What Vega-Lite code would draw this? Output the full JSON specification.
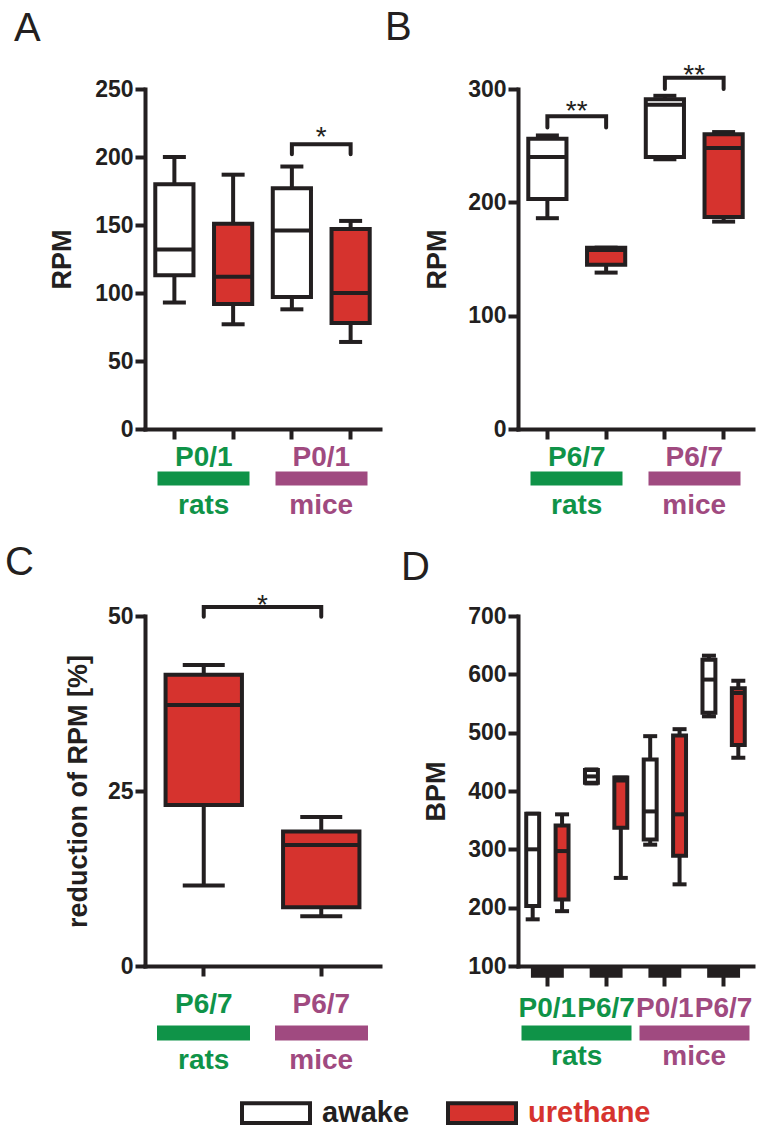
{
  "$schema": "https://vega.github.io/schema/vega-lite/v6.json",
  "background": "white",
  "padding": {"left": 5, "top": 7, "right": 5, "bottom": 5},
  "datasets": {
    "boxes": [
      {"panel": "A", "box": "A1", "grp": "rats", "cond": "awake", "min": 93, "q1": 113, "med": 132, "q3": 180, "max": 200},
      {"panel": "A", "box": "A2", "grp": "rats", "cond": "urethane", "min": 77, "q1": 92, "med": 112, "q3": 151, "max": 187},
      {"panel": "A", "box": "A3", "grp": "mice", "cond": "awake", "min": 88, "q1": 97, "med": 146, "q3": 177, "max": 193},
      {"panel": "A", "box": "A4", "grp": "mice", "cond": "urethane", "min": 64, "q1": 78, "med": 100, "q3": 147, "max": 153},
      {"panel": "B", "box": "B1", "grp": "rats", "cond": "awake", "min": 186, "q1": 203, "med": 240, "q3": 256, "max": 259},
      {"panel": "B", "box": "B2", "grp": "rats", "cond": "urethane", "min": 138, "q1": 145, "med": 158, "q3": 160, "max": 160},
      {"panel": "B", "box": "B3", "grp": "mice", "cond": "awake", "min": 238, "q1": 240, "med": 286, "q3": 291, "max": 294},
      {"panel": "B", "box": "B4", "grp": "mice", "cond": "urethane", "min": 183, "q1": 187, "med": 248, "q3": 260, "max": 262},
      {"panel": "C", "box": "C1", "grp": "rats", "cond": "urethane", "min": 11.5, "q1": 23, "med": 37.3, "q3": 41.6, "max": 43},
      {"panel": "C", "box": "C2", "grp": "mice", "cond": "urethane", "min": 7.1, "q1": 8.4, "med": 17.3, "q3": 19.2, "max": 21.3},
      {"panel": "D", "box": "D1", "age": "P0/1 rats", "cond": "awake", "min": 180, "q1": 203, "med": 300, "q3": 361, "max": 361},
      {"panel": "D", "box": "D2", "age": "P0/1 rats", "cond": "urethane", "min": 194, "q1": 214, "med": 297, "q3": 341, "max": 360},
      {"panel": "D", "box": "D3", "age": "P6/7 rats", "cond": "awake", "min": 413, "q1": 414, "med": 425, "q3": 436, "max": 437},
      {"panel": "D", "box": "D4", "age": "P6/7 rats", "cond": "urethane", "min": 251, "q1": 337, "med": 418, "q3": 423, "max": 423},
      {"panel": "D", "box": "D5", "age": "P0/1 mice", "cond": "awake", "min": 308, "q1": 317, "med": 365, "q3": 454, "max": 494},
      {"panel": "D", "box": "D6", "age": "P0/1 mice", "cond": "urethane", "min": 240, "q1": 289, "med": 360, "q3": 495, "max": 506},
      {"panel": "D", "box": "D7", "age": "P6/7 mice", "cond": "awake", "min": 528, "q1": 534, "med": 591, "q3": 625, "max": 632},
      {"panel": "D", "box": "D8", "age": "P6/7 mice", "cond": "urethane", "min": 457, "q1": 479, "med": 568, "q3": 576, "max": 589}
    ],
    "brackets": [
      {"panel": "A", "bid": "a", "box": "A3", "y": 202, "o": 1},
      {"panel": "A", "bid": "a", "box": "A3", "y": 209.4, "o": 2},
      {"panel": "A", "bid": "a", "box": "A4", "y": 209.4, "o": 3},
      {"panel": "A", "bid": "a", "box": "A4", "y": 202, "o": 4},
      {"panel": "B", "bid": "b1", "box": "B1", "y": 266, "o": 1},
      {"panel": "B", "bid": "b1", "box": "B1", "y": 276, "o": 2},
      {"panel": "B", "bid": "b1", "box": "B2", "y": 276, "o": 3},
      {"panel": "B", "bid": "b1", "box": "B2", "y": 266, "o": 4},
      {"panel": "B", "bid": "b2", "box": "B3", "y": 300, "o": 1},
      {"panel": "B", "bid": "b2", "box": "B3", "y": 310, "o": 2},
      {"panel": "B", "bid": "b2", "box": "B4", "y": 310, "o": 3},
      {"panel": "B", "bid": "b2", "box": "B4", "y": 300, "o": 4},
      {"panel": "C", "bid": "c", "box": "C1", "y": 49.9, "o": 1},
      {"panel": "C", "bid": "c", "box": "C1", "y": 51.3, "o": 2},
      {"panel": "C", "bid": "c", "box": "C2", "y": 51.3, "o": 3},
      {"panel": "C", "bid": "c", "box": "C2", "y": 49.9, "o": 4}
    ],
    "stars": [
      {"panel": "A", "grp": "mice", "y": 208, "s": "*"},
      {"panel": "B", "grp": "rats", "y": 272.7, "s": "**"},
      {"panel": "B", "grp": "mice", "y": 304.5, "s": "**"},
      {"panel": "C", "grp": "all", "y": 50.3, "s": "*"}
    ],
    "blocks": [
      {"age": "P0/1 rats", "top": 100, "bot": 80},
      {"age": "P6/7 rats", "top": 100, "bot": 80},
      {"age": "P0/1 mice", "top": 100, "bot": 80},
      {"age": "P6/7 mice", "top": 100, "bot": 80}
    ],
    "strip": [
      {"panel": "A", "key": "P0/1 rats", "grp": "rats"},
      {"panel": "A", "key": "P0/1 mice", "grp": "mice"},
      {"panel": "B", "key": "P6/7 rats", "grp": "rats"},
      {"panel": "B", "key": "P6/7 mice", "grp": "mice"},
      {"panel": "C", "key": "P6/7 rats", "grp": "rats"},
      {"panel": "C", "key": "P6/7 mice", "grp": "mice"},
      {"panel": "D", "key": "P0/1 rats", "grp": "rats"},
      {"panel": "D", "key": "P6/7 rats", "grp": "rats"},
      {"panel": "D", "key": "P0/1 mice", "grp": "mice"},
      {"panel": "D", "key": "P6/7 mice", "grp": "mice"}
    ]
  },
  "columns": 2,
  "align": "each",
  "spacing": {"row": 11, "column": 5},
  "concat": [
    {
      "width": 235, "height": 340,
      "title": {"text": "A", "dx": -131, "offset": 29},
      "data": {"name": "boxes"},
      "transform": [{"filter": "datum.panel === 'A'"}],
      "resolve": {"scale": {"x": "independent"}},
      "layer": [
        {"mark": {"type": "rule", "color": "#231f20", "strokeWidth": 4},
         "encoding": {"x": {"field": "box", "type": "nominal", "scale": {"type": "band", "domain": ["A1", "A2", "A3", "A4"], "paddingInner": 0.35, "paddingOuter": 0.175}, "axis": {"title": null, "labels": false}},
           "y": {"field": "min", "type": "quantitative", "scale": {"domain": [0, 250], "nice": false}, "axis": {"title": "RPM", "values": [0, 50, 100, 150, 200, 250], "titlePadding": 18}}, "y2": {"field": "max"}}},
        {"mark": {"type": "tick", "color": "#231f20", "size": 23, "thickness": 4, "opacity": 1},
         "encoding": {"x": {"field": "box", "type": "nominal", "scale": {"type": "band", "domain": ["A1", "A2", "A3", "A4"], "paddingInner": 0.35, "paddingOuter": 0.175}, "axis": null}, "y": {"field": "min", "type": "quantitative"}}},
        {"mark": {"type": "tick", "color": "#231f20", "size": 23, "thickness": 4, "opacity": 1},
         "encoding": {"x": {"field": "box", "type": "nominal", "scale": {"type": "band", "domain": ["A1", "A2", "A3", "A4"], "paddingInner": 0.35, "paddingOuter": 0.175}, "axis": null}, "y": {"field": "max", "type": "quantitative"}}},
        {"mark": {"type": "bar", "stroke": "#231f20", "strokeWidth": 4, "opacity": 1},
         "encoding": {"x": {"field": "box", "type": "nominal", "scale": {"type": "band", "domain": ["A1", "A2", "A3", "A4"], "paddingInner": 0.35, "paddingOuter": 0.175}, "axis": null},
           "y": {"field": "q1", "type": "quantitative"}, "y2": {"field": "q3"},
           "fill": {"field": "cond", "type": "nominal", "scale": {"domain": ["awake", "urethane"], "range": ["#ffffff", "#d6332e"]},
             "legend": {"orient": "none", "legendX": 95, "legendY": 988, "direction": "horizontal", "title": null,
               "symbolType": "M-1,-0.29H1V0.29H-1Z", "symbolSize": 4624, "symbolStrokeColor": "#231f20", "symbolStrokeWidth": 4, "symbolOpacity": 1,
               "labelFont": "Liberation Sans", "labelFontSize": 29, "labelFontWeight": "bold", "labelOffset": 10, "columnPadding": 30,
               "encode": {"labels": {"update": {"fill": {"signal": "datum.label === 'urethane' ? '#d6332e' : '#231f20'"}}}}}}}},
        {"mark": {"type": "tick", "color": "#231f20", "size": 38, "thickness": 4, "opacity": 1},
         "encoding": {"x": {"field": "box", "type": "nominal", "scale": {"type": "band", "domain": ["A1", "A2", "A3", "A4"], "paddingInner": 0.35, "paddingOuter": 0.175}, "axis": null}, "y": {"field": "med", "type": "quantitative"}}},
        {"data": {"name": "brackets"}, "transform": [{"filter": "datum.panel === 'A'"}],
         "mark": {"type": "line", "color": "#231f20", "strokeWidth": 4, "strokeCap": "round"},
         "encoding": {"x": {"field": "box", "type": "nominal", "scale": {"type": "band", "domain": ["A1", "A2", "A3", "A4"], "paddingInner": 0.35, "paddingOuter": 0.175}, "axis": null},
           "y": {"field": "y", "type": "quantitative"}, "order": {"field": "o"}, "detail": {"field": "bid"}}},
        {"data": {"name": "stars"}, "transform": [{"filter": "datum.panel === 'A'"}],
         "mark": {"type": "text", "fontSize": 28, "baseline": "alphabetic", "color": "#231f20"},
         "encoding": {"x": {"field": "grp", "type": "nominal", "scale": {"type": "band", "domain": ["rats", "mice"], "paddingInner": 0, "paddingOuter": 0}, "axis": null}, "y": {"field": "y", "type": "quantitative"}, "text": {"field": "s"}}},
        {"data": {"name": "strip"}, "transform": [{"filter": "datum.panel === 'A'"}],
         "mark": {"type": "point", "opacity": 0},
         "encoding": {"x": {"field": "key", "type": "nominal", "sort": null, "scale": {"type": "band", "paddingInner": 0, "paddingOuter": 0},
           "axis": {"orient": "bottom", "offset": 14, "title": null, "domain": false, "ticks": false, "labelAngle": 0, "labelOverlap": false, "labelExpr": "split(datum.value, ' ')[0]", "labelFontSize": 28, "labelPadding": 0,
             "labelColor": {"condition": {"test": "indexof(datum.value, 'rats') >= 0", "value": "#0f9348"}, "value": "#a04a80"}}},
           "y": {"datum": 0, "type": "quantitative"}}},
        {"data": {"name": "strip"}, "transform": [{"filter": "datum.panel === 'A'"}],
         "mark": {"type": "point", "opacity": 0},
         "encoding": {"x": {"field": "grp", "type": "nominal", "scale": {"type": "band", "domain": ["rats", "mice"], "paddingInner": 0, "paddingOuter": 0},
           "axis": {"orient": "bottom", "offset": 42, "title": null, "domain": false, "tickSize": 14, "tickWidth": 92, "tickCap": "butt",
             "tickColor": {"condition": {"test": "datum.value === 'rats'", "value": "#0f9348"}, "value": "#a04a80"},
             "labelAngle": 0, "labelOverlap": false, "labelFontSize": 28, "labelPadding": 6,
             "labelColor": {"condition": {"test": "datum.value === 'rats'", "value": "#0f9348"}, "value": "#a04a80"}}},
           "y": {"datum": 0, "type": "quantitative"}}}
      ]
    },
    {
      "width": 235, "height": 340,
      "title": {"text": "B", "dx": -133, "offset": 14},
      "data": {"name": "boxes"},
      "transform": [{"filter": "datum.panel === 'B'"}],
      "resolve": {"scale": {"x": "independent"}},
      "layer": [
        {"mark": {"type": "rule", "color": "#231f20", "strokeWidth": 4},
         "encoding": {"x": {"field": "box", "type": "nominal", "scale": {"type": "band", "domain": ["B1", "B2", "B3", "B4"], "paddingInner": 0.35, "paddingOuter": 0.175}, "axis": {"title": null, "labels": false}},
           "y": {"field": "min", "type": "quantitative", "scale": {"domain": [0, 300], "nice": false}, "axis": {"title": "RPM", "values": [0, 100, 200, 300], "titlePadding": 16}}, "y2": {"field": "max"}}},
        {"mark": {"type": "tick", "color": "#231f20", "size": 23, "thickness": 4, "opacity": 1},
         "encoding": {"x": {"field": "box", "type": "nominal", "scale": {"type": "band", "domain": ["B1", "B2", "B3", "B4"], "paddingInner": 0.35, "paddingOuter": 0.175}, "axis": null}, "y": {"field": "min", "type": "quantitative"}}},
        {"mark": {"type": "tick", "color": "#231f20", "size": 23, "thickness": 4, "opacity": 1},
         "encoding": {"x": {"field": "box", "type": "nominal", "scale": {"type": "band", "domain": ["B1", "B2", "B3", "B4"], "paddingInner": 0.35, "paddingOuter": 0.175}, "axis": null}, "y": {"field": "max", "type": "quantitative"}}},
        {"mark": {"type": "bar", "stroke": "#231f20", "strokeWidth": 4, "opacity": 1},
         "encoding": {"x": {"field": "box", "type": "nominal", "scale": {"type": "band", "domain": ["B1", "B2", "B3", "B4"], "paddingInner": 0.35, "paddingOuter": 0.175}, "axis": null},
           "y": {"field": "q1", "type": "quantitative"}, "y2": {"field": "q3"},
           "fill": {"field": "cond", "type": "nominal", "scale": {"domain": ["awake", "urethane"], "range": ["#ffffff", "#d6332e"]}}}},
        {"mark": {"type": "tick", "color": "#231f20", "size": 38, "thickness": 4, "opacity": 1},
         "encoding": {"x": {"field": "box", "type": "nominal", "scale": {"type": "band", "domain": ["B1", "B2", "B3", "B4"], "paddingInner": 0.35, "paddingOuter": 0.175}, "axis": null}, "y": {"field": "med", "type": "quantitative"}}},
        {"data": {"name": "brackets"}, "transform": [{"filter": "datum.panel === 'B'"}],
         "mark": {"type": "line", "color": "#231f20", "strokeWidth": 4, "strokeCap": "round"},
         "encoding": {"x": {"field": "box", "type": "nominal", "scale": {"type": "band", "domain": ["B1", "B2", "B3", "B4"], "paddingInner": 0.35, "paddingOuter": 0.175}, "axis": null},
           "y": {"field": "y", "type": "quantitative"}, "order": {"field": "o"}, "detail": {"field": "bid"}}},
        {"data": {"name": "stars"}, "transform": [{"filter": "datum.panel === 'B'"}],
         "mark": {"type": "text", "fontSize": 28, "baseline": "alphabetic", "color": "#231f20"},
         "encoding": {"x": {"field": "grp", "type": "nominal", "scale": {"type": "band", "domain": ["rats", "mice"], "paddingInner": 0, "paddingOuter": 0}, "axis": null}, "y": {"field": "y", "type": "quantitative"}, "text": {"field": "s"}}},
        {"data": {"name": "strip"}, "transform": [{"filter": "datum.panel === 'B'"}],
         "mark": {"type": "point", "opacity": 0},
         "encoding": {"x": {"field": "key", "type": "nominal", "sort": null, "scale": {"type": "band", "paddingInner": 0, "paddingOuter": 0},
           "axis": {"orient": "bottom", "offset": 14, "title": null, "domain": false, "ticks": false, "labelAngle": 0, "labelOverlap": false, "labelExpr": "split(datum.value, ' ')[0]", "labelFontSize": 28, "labelPadding": 0,
             "labelColor": {"condition": {"test": "indexof(datum.value, 'rats') >= 0", "value": "#0f9348"}, "value": "#a04a80"}}},
           "y": {"datum": 0, "type": "quantitative"}}},
        {"data": {"name": "strip"}, "transform": [{"filter": "datum.panel === 'B'"}],
         "mark": {"type": "point", "opacity": 0},
         "encoding": {"x": {"field": "grp", "type": "nominal", "scale": {"type": "band", "domain": ["rats", "mice"], "paddingInner": 0, "paddingOuter": 0},
           "axis": {"orient": "bottom", "offset": 42, "title": null, "domain": false, "tickSize": 14, "tickWidth": 92, "tickCap": "butt",
             "tickColor": {"condition": {"test": "datum.value === 'rats'", "value": "#0f9348"}, "value": "#a04a80"},
             "labelAngle": 0, "labelOverlap": false, "labelFontSize": 28, "labelPadding": 6,
             "labelColor": {"condition": {"test": "datum.value === 'rats'", "value": "#0f9348"}, "value": "#a04a80"}}},
           "y": {"datum": 0, "type": "quantitative"}}}
      ]
    },
    {
      "width": 235, "height": 350,
      "title": {"text": "C", "dx": -140, "offset": 9},
      "data": {"name": "boxes"},
      "transform": [{"filter": "datum.panel === 'C'"}],
      "resolve": {"scale": {"x": "independent"}},
      "layer": [
        {"mark": {"type": "rule", "color": "#231f20", "strokeWidth": 4},
         "encoding": {"x": {"field": "box", "type": "nominal", "scale": {"type": "band", "domain": ["C1", "C2"], "paddingInner": 0.35, "paddingOuter": 0.175}, "axis": {"title": null, "labels": false}},
           "y": {"field": "min", "type": "quantitative", "scale": {"domain": [0, 50], "nice": false}, "axis": {"title": "reduction of RPM [%]", "values": [0, 25, 50], "titlePadding": 15}}, "y2": {"field": "max"}}},
        {"mark": {"type": "tick", "color": "#231f20", "size": 42, "thickness": 4, "opacity": 1},
         "encoding": {"x": {"field": "box", "type": "nominal", "scale": {"type": "band", "domain": ["C1", "C2"], "paddingInner": 0.35, "paddingOuter": 0.175}, "axis": null}, "y": {"field": "min", "type": "quantitative"}}},
        {"mark": {"type": "tick", "color": "#231f20", "size": 42, "thickness": 4, "opacity": 1},
         "encoding": {"x": {"field": "box", "type": "nominal", "scale": {"type": "band", "domain": ["C1", "C2"], "paddingInner": 0.35, "paddingOuter": 0.175}, "axis": null}, "y": {"field": "max", "type": "quantitative"}}},
        {"mark": {"type": "bar", "stroke": "#231f20", "strokeWidth": 4, "opacity": 1},
         "encoding": {"x": {"field": "box", "type": "nominal", "scale": {"type": "band", "domain": ["C1", "C2"], "paddingInner": 0.35, "paddingOuter": 0.175}, "axis": null},
           "y": {"field": "q1", "type": "quantitative"}, "y2": {"field": "q3"},
           "fill": {"field": "cond", "type": "nominal", "scale": {"domain": ["awake", "urethane"], "range": ["#ffffff", "#d6332e"]}}}},
        {"mark": {"type": "tick", "color": "#231f20", "size": 76, "thickness": 4, "opacity": 1},
         "encoding": {"x": {"field": "box", "type": "nominal", "scale": {"type": "band", "domain": ["C1", "C2"], "paddingInner": 0.35, "paddingOuter": 0.175}, "axis": null}, "y": {"field": "med", "type": "quantitative"}}},
        {"data": {"name": "brackets"}, "transform": [{"filter": "datum.panel === 'C'"}],
         "mark": {"type": "line", "color": "#231f20", "strokeWidth": 4, "strokeCap": "round"},
         "encoding": {"x": {"field": "box", "type": "nominal", "scale": {"type": "band", "domain": ["C1", "C2"], "paddingInner": 0.35, "paddingOuter": 0.175}, "axis": null},
           "y": {"field": "y", "type": "quantitative"}, "order": {"field": "o"}, "detail": {"field": "bid"}}},
        {"data": {"name": "stars"}, "transform": [{"filter": "datum.panel === 'C'"}],
         "mark": {"type": "text", "fontSize": 28, "baseline": "alphabetic", "color": "#231f20"},
         "encoding": {"x": {"field": "grp", "type": "nominal", "scale": {"type": "band", "domain": ["all"], "paddingInner": 0, "paddingOuter": 0}, "axis": null}, "y": {"field": "y", "type": "quantitative"}, "text": {"field": "s"}}},
        {"data": {"name": "strip"}, "transform": [{"filter": "datum.panel === 'C'"}],
         "mark": {"type": "point", "opacity": 0},
         "encoding": {"x": {"field": "key", "type": "nominal", "sort": null, "scale": {"type": "band", "paddingInner": 0, "paddingOuter": 0},
           "axis": {"orient": "bottom", "offset": 24, "title": null, "domain": false, "ticks": false, "labelAngle": 0, "labelOverlap": false, "labelExpr": "split(datum.value, ' ')[0]", "labelFontSize": 28, "labelPadding": 0,
             "labelColor": {"condition": {"test": "indexof(datum.value, 'rats') >= 0", "value": "#0f9348"}, "value": "#a04a80"}}},
           "y": {"datum": 0, "type": "quantitative"}}},
        {"data": {"name": "strip"}, "transform": [{"filter": "datum.panel === 'C'"}],
         "mark": {"type": "point", "opacity": 0},
         "encoding": {"x": {"field": "grp", "type": "nominal", "scale": {"type": "band", "domain": ["rats", "mice"], "paddingInner": 0, "paddingOuter": 0},
           "axis": {"orient": "bottom", "offset": 59, "title": null, "domain": false, "tickSize": 15, "tickWidth": 93, "tickCap": "butt",
             "tickColor": {"condition": {"test": "datum.value === 'rats'", "value": "#0f9348"}, "value": "#a04a80"},
             "labelAngle": 0, "labelOverlap": false, "labelFontSize": 28, "labelPadding": 6,
             "labelColor": {"condition": {"test": "datum.value === 'rats'", "value": "#0f9348"}, "value": "#a04a80"}}},
           "y": {"datum": 0, "type": "quantitative"}}}
      ]
    },
    {
      "width": 235, "height": 350,
      "title": {"text": "D", "dx": -117, "offset": 17},
      "data": {"name": "boxes"},
      "transform": [{"filter": "datum.panel === 'D'"}],
      "resolve": {"scale": {"x": "independent"}},
      "layer": [
        {"data": {"name": "blocks"},
         "mark": {"type": "bar", "color": "#231f20", "opacity": 1},
         "encoding": {
           "x": {"field": "age", "type": "nominal", "scale": {"type": "band", "domain": ["P0/1 rats", "P6/7 rats", "P0/1 mice", "P6/7 mice"], "paddingInner": 0.44, "paddingOuter": 0.22},
             "axis": {"title": null, "tickSize": 20, "labelAngle": 0, "labelOverlap": false, "labelBound": false, "labelExpr": "split(datum.value, ' ')[0]", "labelFontSize": 28, "labelPadding": 8,
               "labelColor": {"condition": {"test": "indexof(datum.value, 'rats') >= 0", "value": "#0f9348"}, "value": "#a04a80"}}},
           "y": {"field": "top", "type": "quantitative", "scale": {"domain": [100, 700], "nice": false, "zero": false}, "axis": {"title": "BPM", "values": [100, 200, 300, 400, 500, 600, 700], "titlePadding": 17}},
           "y2": {"field": "bot"}}},
        {"mark": {"type": "rule", "color": "#231f20", "strokeWidth": 4},
         "encoding": {"x": {"field": "box", "type": "nominal", "scale": {"type": "band", "domain": ["D1", "D2", "D3", "D4", "D5", "D6", "D7", "D8"], "paddingInner": 0.56, "paddingOuter": 0.28}, "axis": null},
           "y": {"field": "min", "type": "quantitative"}, "y2": {"field": "max"}}},
        {"mark": {"type": "tick", "color": "#231f20", "size": 14, "thickness": 4, "opacity": 1},
         "encoding": {"x": {"field": "box", "type": "nominal", "scale": {"type": "band", "domain": ["D1", "D2", "D3", "D4", "D5", "D6", "D7", "D8"], "paddingInner": 0.56, "paddingOuter": 0.28}, "axis": null}, "y": {"field": "min", "type": "quantitative"}}},
        {"mark": {"type": "tick", "color": "#231f20", "size": 14, "thickness": 4, "opacity": 1},
         "encoding": {"x": {"field": "box", "type": "nominal", "scale": {"type": "band", "domain": ["D1", "D2", "D3", "D4", "D5", "D6", "D7", "D8"], "paddingInner": 0.56, "paddingOuter": 0.28}, "axis": null}, "y": {"field": "max", "type": "quantitative"}}},
        {"mark": {"type": "bar", "stroke": "#231f20", "strokeWidth": 4, "opacity": 1},
         "encoding": {"x": {"field": "box", "type": "nominal", "scale": {"type": "band", "domain": ["D1", "D2", "D3", "D4", "D5", "D6", "D7", "D8"], "paddingInner": 0.56, "paddingOuter": 0.28}, "axis": null},
           "y": {"field": "q1", "type": "quantitative"}, "y2": {"field": "q3"},
           "fill": {"field": "cond", "type": "nominal", "scale": {"domain": ["awake", "urethane"], "range": ["#ffffff", "#d6332e"]}}}},
        {"mark": {"type": "tick", "color": "#231f20", "size": 13, "thickness": 4, "opacity": 1},
         "encoding": {"x": {"field": "box", "type": "nominal", "scale": {"type": "band", "domain": ["D1", "D2", "D3", "D4", "D5", "D6", "D7", "D8"], "paddingInner": 0.56, "paddingOuter": 0.28}, "axis": null}, "y": {"field": "med", "type": "quantitative"}}},
        {"data": {"name": "strip"}, "transform": [{"filter": "datum.panel === 'D'"}],
         "mark": {"type": "point", "opacity": 0},
         "encoding": {"x": {"field": "grp", "type": "nominal", "scale": {"type": "band", "domain": ["rats", "mice"], "paddingInner": 0, "paddingOuter": 0},
           "axis": {"orient": "bottom", "offset": 59, "title": null, "domain": false, "tickSize": 15, "tickWidth": 110, "tickCap": "butt",
             "tickColor": {"condition": {"test": "datum.value === 'rats'", "value": "#0f9348"}, "value": "#a04a80"},
             "labelAngle": 0, "labelOverlap": false, "labelFontSize": 28, "labelPadding": 2,
             "labelColor": {"condition": {"test": "datum.value === 'rats'", "value": "#0f9348"}, "value": "#a04a80"}}},
           "y": {"datum": 100, "type": "quantitative"}}}
      ]
    }
  ],
  "config": {
    "font": "Liberation Sans",
    "view": {"stroke": null},
    "axis": {
      "domainColor": "#231f20", "domainWidth": 4, "domainCap": "square",
      "tickColor": "#231f20", "tickWidth": 4, "tickSize": 10,
      "labelFont": "Liberation Sans", "labelFontWeight": "bold", "labelFontSize": 23, "labelColor": "#231f20", "labelPadding": 2,
      "titleFont": "Liberation Sans", "titleFontWeight": "bold", "titleFontSize": 27, "titleColor": "#231f20",
      "grid": false
    },
    "title": {"font": "Liberation Sans", "fontSize": 40, "fontWeight": "normal", "color": "#231f20", "anchor": "start", "frame": "group", "baseline": "alphabetic"}
  }
}
